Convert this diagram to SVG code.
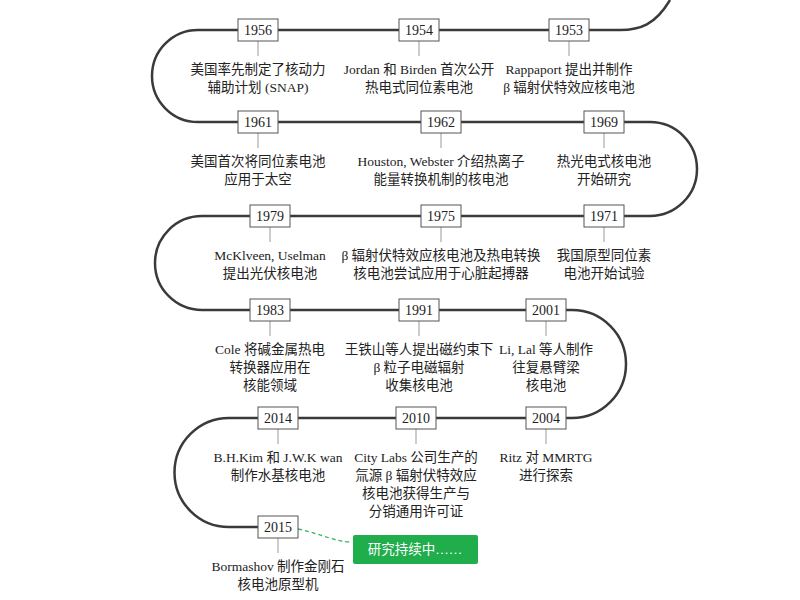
<svg xmlns="http://www.w3.org/2000/svg" width="800" height="600" viewBox="0 0 800 600">
<style>
.ln{fill:none;stroke:#3a3a3a;stroke-width:2.5}
.yr rect{fill:#fff;stroke:#555;stroke-width:1}
.yr text{font-family:"Liberation Serif",serif;font-size:14px;fill:#222;text-anchor:middle}
.tk{stroke:#999;stroke-width:1}
.t{font-family:"Liberation Serif","Noto Sans CJK SC",serif;font-size:13.5px;fill:#222;text-anchor:middle}
</style>
<rect width="800" height="600" fill="#fff"/>
<g id="connectors">
<path class="ln" d="M670,0 C655,25 640,30 620,30 L198,30 A46,46 0 0 0 198,122 L650,122 A47,47 0 0 1 650,216 L202,216 A47,47 0 0 0 202,310 L572,310 A54,54 0 0 1 572,418 L229,418 A54.5,54.5 0 0 0 229,527 L278,527"/>
<g class="tk">
<line x1="258" y1="40" x2="258" y2="56"/><line x1="419" y1="40" x2="419" y2="56"/><line x1="569" y1="40" x2="569" y2="56"/>
<line x1="258" y1="132" x2="258" y2="148"/><line x1="441" y1="132" x2="441" y2="148"/><line x1="604" y1="132" x2="604" y2="148"/>
<line x1="270" y1="226" x2="270" y2="242"/><line x1="441" y1="226" x2="441" y2="242"/><line x1="604" y1="226" x2="604" y2="242"/>
<line x1="270" y1="320" x2="270" y2="336"/><line x1="419" y1="320" x2="419" y2="336"/><line x1="546" y1="320" x2="546" y2="336"/>
<line x1="278" y1="428" x2="278" y2="444"/><line x1="416" y1="428" x2="416" y2="444"/><line x1="546" y1="428" x2="546" y2="444"/>
<line x1="278" y1="537" x2="278" y2="553"/>
</g>
<path d="M298,529 C325,535 335,542 352,542" fill="none" stroke="#2fb55a" stroke-width="1.3" stroke-dasharray="4,3"/>
</g>
<g id="n1956" class="yr"><rect x="238" y="19" width="40" height="22"/><text x="258" y="35">1956</text></g>
<g id="n1954" class="yr"><rect x="399" y="19" width="40" height="22"/><text x="419" y="35">1954</text></g>
<g id="n1953" class="yr"><rect x="549" y="19" width="40" height="22"/><text x="569" y="35">1953</text></g>
<g id="n1961" class="yr"><rect x="238" y="111" width="40" height="22"/><text x="258" y="127">1961</text></g>
<g id="n1962" class="yr"><rect x="421" y="111" width="40" height="22"/><text x="441" y="127">1962</text></g>
<g id="n1969" class="yr"><rect x="584" y="111" width="40" height="22"/><text x="604" y="127">1969</text></g>
<g id="n1979" class="yr"><rect x="250" y="205" width="40" height="22"/><text x="270" y="221">1979</text></g>
<g id="n1975" class="yr"><rect x="421" y="205" width="40" height="22"/><text x="441" y="221">1975</text></g>
<g id="n1971" class="yr"><rect x="584" y="205" width="40" height="22"/><text x="604" y="221">1971</text></g>
<g id="n1983" class="yr"><rect x="250" y="299" width="40" height="22"/><text x="270" y="315">1983</text></g>
<g id="n1991" class="yr"><rect x="399" y="299" width="40" height="22"/><text x="419" y="315">1991</text></g>
<g id="n2001" class="yr"><rect x="526" y="299" width="40" height="22"/><text x="546" y="315">2001</text></g>
<g id="n2014" class="yr"><rect x="258" y="407" width="40" height="22"/><text x="278" y="423">2014</text></g>
<g id="n2010" class="yr"><rect x="396" y="407" width="40" height="22"/><text x="416" y="423">2010</text></g>
<g id="n2004" class="yr"><rect x="526" y="407" width="40" height="22"/><text x="546" y="423">2004</text></g>
<g id="n2015" class="yr"><rect x="258" y="516" width="40" height="22"/><text x="278" y="532">2015</text></g>
<g id="ongoing"><rect x="353" y="535" width="125" height="29" rx="2" fill="#1fae4b"/><text x="415" y="554" font-family="Liberation Serif,'Noto Sans CJK SC',serif" font-size="13.5" fill="#fff" text-anchor="middle">研究持续中……</text></g>
<g id="labels">
<text class="t" x="258" y="74">美国率先制定了核动力</text><text class="t" x="258" y="92">辅助计划 (SNAP)</text>
<text class="t" x="419" y="74">Jordan 和 Birden 首次公开</text><text class="t" x="419" y="92">热电式同位素电池</text>
<text class="t" x="569" y="74">Rappaport 提出并制作</text><text class="t" x="569" y="92">β 辐射伏特效应核电池</text>
<text class="t" x="258" y="166">美国首次将同位素电池</text><text class="t" x="258" y="184">应用于太空</text>
<text class="t" x="441" y="166">Houston, Webster 介绍热离子</text><text class="t" x="441" y="184">能量转换机制的核电池</text>
<text class="t" x="604" y="166">热光电式核电池</text><text class="t" x="604" y="184">开始研究</text>
<text class="t" x="270" y="260">McKlveen, Uselman</text><text class="t" x="270" y="278">提出光伏核电池</text>
<text class="t" x="441" y="260">β 辐射伏特效应核电池及热电转换</text><text class="t" x="441" y="278">核电池尝试应用于心脏起搏器</text>
<text class="t" x="604" y="260">我国原型同位素</text><text class="t" x="604" y="278">电池开始试验</text>
<text class="t" x="270" y="354">Cole 将碱金属热电</text><text class="t" x="270" y="372">转换器应用在</text><text class="t" x="270" y="390">核能领域</text>
<text class="t" x="419" y="354">王铁山等人提出磁约束下</text><text class="t" x="419" y="372">β 粒子电磁辐射</text><text class="t" x="419" y="390">收集核电池</text>
<text class="t" x="546" y="354">Li, Lal 等人制作</text><text class="t" x="546" y="372">往复悬臂梁</text><text class="t" x="546" y="390">核电池</text>
<text class="t" x="278" y="462">B.H.Kim 和 J.W.K wan</text><text class="t" x="278" y="480">制作水基核电池</text>
<text class="t" x="416" y="462">City Labs 公司生产的</text><text class="t" x="416" y="480">氚源 β 辐射伏特效应</text><text class="t" x="416" y="498">核电池获得生产与</text><text class="t" x="416" y="516">分销通用许可证</text>
<text class="t" x="546" y="462">Ritz 对 MMRTG</text><text class="t" x="546" y="480">进行探索</text>
<text class="t" x="278" y="571">Bormashov 制作金刚石</text><text class="t" x="278" y="589">核电池原型机</text>
</g>
</svg>
